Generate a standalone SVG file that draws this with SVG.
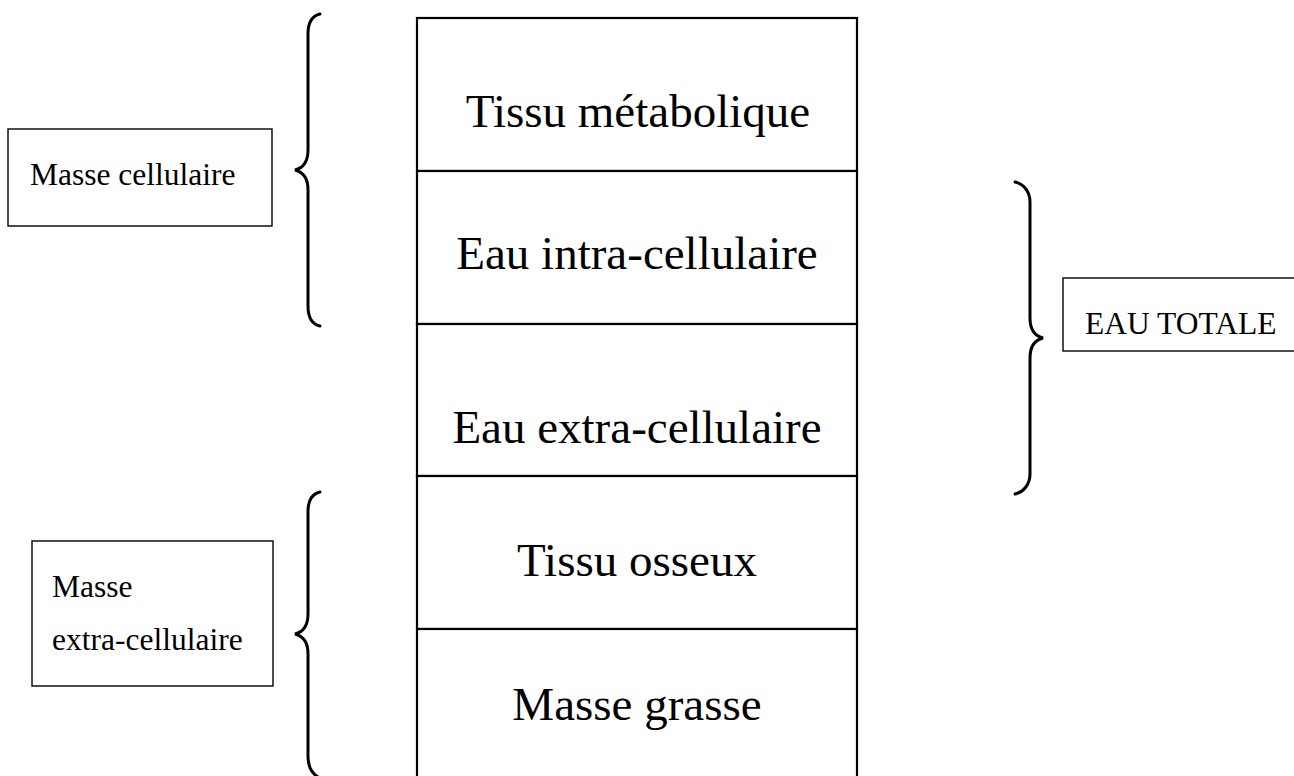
<svg xmlns="http://www.w3.org/2000/svg" width="1294" height="776" viewBox="0 0 1294 776">
<style>
.bg{fill:#fff}
.cell{fill:#fff;stroke:#000;stroke-width:2.2}
.lbl{fill:#fff;stroke:#000;stroke-width:1.4}
.brace{fill:none;stroke:#000;stroke-width:3;stroke-linecap:round}
.big{font-family:"Liberation Serif","Times New Roman",serif;font-size:47px;fill:#000;text-anchor:middle}
.small{font-family:"Liberation Serif","Times New Roman",serif;font-size:31.5px;fill:#000}
</style>
<rect class="bg" x="0" y="0" width="1294" height="776"/>
<g id="tissu-metabolique">
<rect class="cell" x="417" y="18" width="440" height="153"/>
<text class="big" x="638" y="127">Tissu métabolique</text>
</g>
<g id="eau-intra">
<rect class="cell" x="417" y="171" width="440" height="153"/>
<text class="big" x="637" y="269">Eau intra-cellulaire</text>
</g>
<g id="eau-extra">
<rect class="cell" x="417" y="324" width="440" height="152"/>
<text class="big" x="637" y="443">Eau extra-cellulaire</text>
</g>
<g id="tissu-osseux">
<rect class="cell" x="417" y="476" width="440" height="153"/>
<text class="big" x="637" y="576">Tissu osseux</text>
</g>
<g id="masse-grasse">
<rect class="cell" x="417" y="629" width="440" height="160"/>
<text class="big" x="637" y="720">Masse grasse</text>
</g>
<g id="masse-cellulaire">
<rect class="lbl" x="8" y="129" width="264" height="97"/>
<text class="small" x="30" y="185">Masse cellulaire</text>
</g>
<g id="masse-extra">
<rect class="lbl" x="32" y="541" width="241" height="145"/>
<text class="small" x="52" y="597">Masse</text>
<text class="small" x="52" y="650">extra-cellulaire</text>
</g>
<g id="eau-totale">
<rect class="lbl" x="1063" y="278" width="240" height="73"/>
<text class="small" x="1085" y="334">EAU TOTALE</text>
</g>
<g id="connectors">
<path class="brace" d="M320,14 C311,16 308,24 308,34 L308,150 C308,162 303,168 295,170 C303,172 308,178 308,190 L308,306 C308,316 311,324 320,326"/>
<path class="brace" d="M1015,182 C1024,184 1030,192 1030,202 L1030,318 C1030,330 1035,336 1043,338 C1035,340 1030,346 1030,358 L1030,474 C1030,484 1024,492 1015,494"/>
<path class="brace" d="M320,492 C311,494 308,502 308,512 L308,614 C308,626 303,632 295,634 C303,636 308,642 308,654 L308,756 C308,766 311,774 320,778"/>
</g>
</svg>
